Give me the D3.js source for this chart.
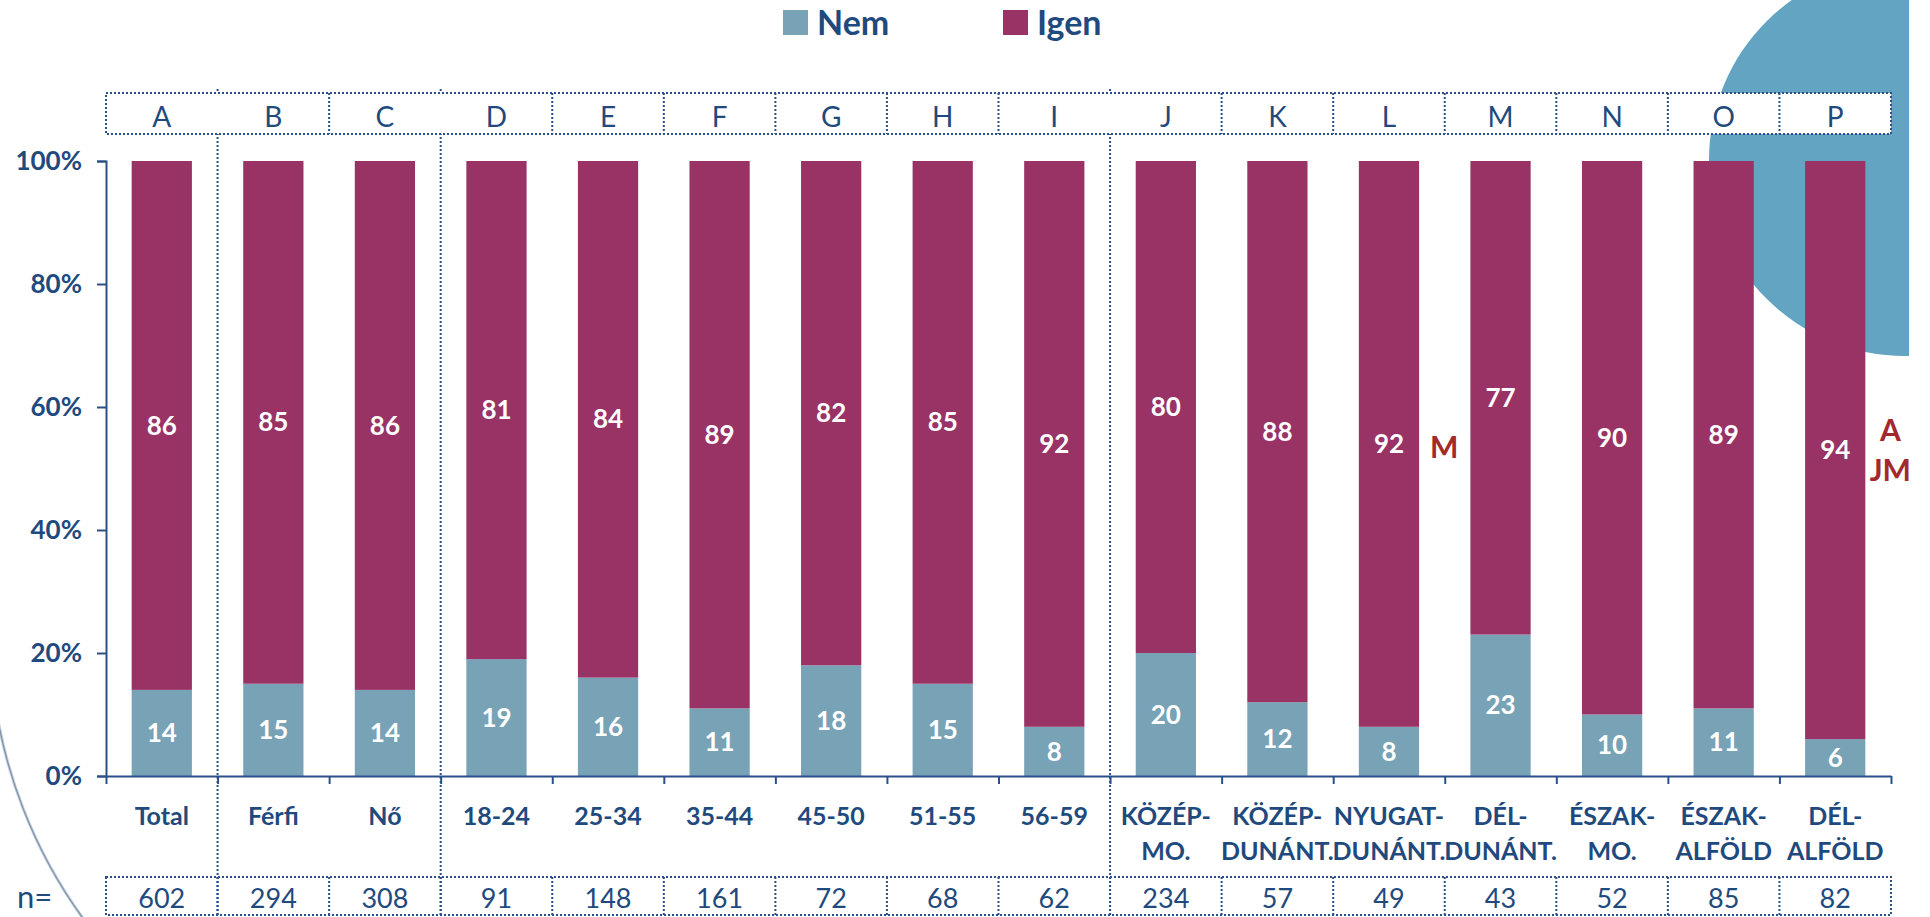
<!DOCTYPE html>
<html>
<head>
<meta charset="utf-8">
<script src="https://cdn.jsdelivr.net/npm/d3@7"></script>
<style>
  body { margin: 0; background: #fff; }
  svg text { font-family: Lato, "Open Sans", sans-serif; }
</style>
</head>
<body>
<div id="chart"></div>
<script>
// chart values
const letters = ["A","B","C","D","E","F","G","H","I","J","K","L","M","N","O","P"];
const categories = [["Total"],["Férfi"],["Nő"],["18-24"],["25-34"],["35-44"],["45-50"],["51-55"],["56-59"],
  ["KÖZÉP-","MO."],["KÖZÉP-","DUNÁNT."],["NYUGAT-","DUNÁNT."],["DÉL-","DUNÁNT."],["ÉSZAK-","MO."],["ÉSZAK-","ALFÖLD"],["DÉL-","ALFÖLD"]];
const nemValues  = [14,15,14,19,16,11,18,15,8,20,12,8,23,10,11,6];
const igenValues = [86,85,86,81,84,89,82,85,92,80,88,92,77,90,89,94];
const nValues = [602,294,308,91,148,161,72,68,62,234,57,49,43,52,85,82];
const sigMarks = [[],[],[],[],[],[],[],[],[],[],[],["M"],[],[],[],["A","JM"]];
const seriesNames = ["Nem","Igen"];
const seriesColors = ["#78a2b6","#993366"];
const yTicks = [0,20,40,60,80,100];
const groupBreaks = [1,3,9];

const W = 1930, H = 917;
const blue = "#1f4a7e", lineBlue = "#2b5089";
const x0 = 106, x1 = 1891, yTop = 161, yBottom = 776;

const svg = d3.select("#chart").append("svg")
    .attr("width", W)
    .attr("height", H);

// decoration: big circle top right, thin arc bottom left
svg.append("clipPath").attr("id","clipR")
  .append("rect").attr("x",0).attr("y",0).attr("width",1909).attr("height",H);
svg.append("circle")
    .attr("cx",1905).attr("cy",160).attr("r",196)
    .attr("fill","#63a4c3")
    .attr("clip-path","url(#clipR)");
let arcPath = d3.path();
arcPath.arc(477, 632, 487, 2.4, 3.14);
svg.append("path").attr("d", arcPath.toString())
    .attr("fill","none").attr("stroke","#c3ced9").attr("stroke-width",3);
svg.append("path").attr("d", arcPath.toString())
    .attr("fill","none").attr("stroke","#7a8ea7").attr("stroke-width",1.1);

// scales
const xScale = d3.scaleBand().domain(letters).range([x0,x1]).paddingInner(0.46).paddingOuter(0.23);
const xEdge = d3.scaleLinear().domain([0,letters.length]).range([x0,x1]);
const yScale = d3.scaleLinear().domain([0,100]).range([yBottom,yTop]);

// stacked data
let rows = letters.map((l,i)=>({letter:l, Nem:nemValues[i], Igen:igenValues[i]}));
let stacked = d3.stack().keys(seriesNames)(rows);

// group dividers (drawn below the boxes)
svg.selectAll("line.group").data(groupBreaks).enter().append("line")
    .attr("x1", d=>xEdge(d)).attr("x2", d=>xEdge(d))
    .attr("y1", 89).attr("y2", 915)
    .attr("stroke", lineBlue).attr("stroke-width",2).attr("stroke-dasharray","2,2");

// bars
let layers = svg.selectAll("g.layer").data(stacked).enter().append("g")
    .attr("fill", (d,i)=>seriesColors[i]);
layers.selectAll("rect").data(d=>d).enter().append("rect")
    .attr("x", d=>xScale(d.data.letter))
    .attr("width", xScale.bandwidth())
    .attr("y", d=>yScale(d[1]))
    .attr("height", d=>yScale(d[0])-yScale(d[1]));

// value labels inside bars
stacked.forEach(layer=>{
    svg.append("g").selectAll("text").data(layer).enter().append("text")
        .attr("x", d=>xScale(d.data.letter)+xScale.bandwidth()/2)
        .attr("y", d=>yScale((d[0]+d[1])/2))
        .attr("dy","0.35em")
        .attr("text-anchor","middle")
        .attr("fill","#fff")
        .attr("font-weight","bold")
        .attr("font-size",26)
        .text(d=>d[1]-d[0]);
});

// significance letters
let igenLayer = stacked[1];
letters.forEach((l,i)=>{
    let marks = sigMarks[i];
    if(marks.length===0) return;
    let cy = yScale((igenLayer[i][0]+igenLayer[i][1])/2);
    let start = marks.length===1 ? 4 : -20;
    marks.forEach((m,j)=>{
        svg.append("text")
            .attr("x", xScale(l)+xScale.bandwidth()+25)
            .attr("y", cy+start+j*40)
            .attr("dy","0.35em")
            .attr("text-anchor","middle")
            .attr("fill","#a2292c")
            .attr("font-weight","bold")
            .attr("font-size",30)
            .text(m);
    });
});

// y axis
let yAxis = svg.append("g")
    .attr("transform","translate("+x0+",0)")
    .call(d3.axisLeft(yScale).tickValues(yTicks).tickSize(9).tickPadding(15).tickFormat(d=>d+"%"));
yAxis.selectAll("path,line").attr("stroke",lineBlue).attr("stroke-width",2);
yAxis.selectAll("text")
    .attr("fill",blue).attr("font-weight","bold").attr("font-size",26)
    .style("font-family","Lato, sans-serif");

// x axis with ticks on category edges
let xAxis = svg.append("g")
    .attr("transform","translate(0,"+yBottom+")")
    .call(d3.axisBottom(xEdge).tickValues(d3.range(letters.length+1)).tickSize(8).tickSizeOuter(0).tickFormat(""));
xAxis.selectAll("path,line").attr("stroke",lineBlue).attr("stroke-width",2);

// category labels
let catText = svg.append("g").selectAll("text").data(categories).enter().append("text")
    .attr("text-anchor","middle")
    .attr("fill",blue)
    .attr("font-weight","bold")
    .attr("font-size",25);
catText.selectAll("tspan").data((d,i)=>d.map(t=>({t:t,i:i}))).enter().append("tspan")
    .attr("x", d=>xScale(letters[d.i])+xScale.bandwidth()/2)
    .attr("y", (d,j)=>825+j*35)
    .text(d=>d.t);

// top letter boxes
svg.append("rect")
    .attr("x",x0).attr("y",93).attr("width",x1-x0).attr("height",41)
    .attr("fill","#fff").attr("stroke",lineBlue).attr("stroke-width",2).attr("stroke-dasharray","2,2");
let innerTop = d3.range(1,letters.length).filter(k=>groupBreaks.indexOf(k)<0);
svg.selectAll("line.topdiv").data(innerTop).enter().append("line")
    .attr("x1", d=>xEdge(d)).attr("x2", d=>xEdge(d))
    .attr("y1",93).attr("y2",134)
    .attr("stroke",lineBlue).attr("stroke-width",2).attr("stroke-dasharray","2,2");
svg.append("g").selectAll("text").data(letters).enter().append("text")
    .attr("x", d=>xScale(d)+xScale.bandwidth()/2)
    .attr("y",127)
    .attr("text-anchor","middle")
    .attr("fill",blue)
    .attr("font-size",28)
    .text(d=>d);

// n= row
svg.append("rect")
    .attr("x",x0).attr("y",877).attr("width",x1-x0).attr("height",38)
    .attr("fill","none").attr("stroke",lineBlue).attr("stroke-width",2).attr("stroke-dasharray","2,2");
svg.selectAll("line.ndiv").data(d3.range(1,letters.length)).enter().append("line")
    .attr("x1", d=>xEdge(d)).attr("x2", d=>xEdge(d))
    .attr("y1",877).attr("y2",915)
    .attr("stroke",lineBlue).attr("stroke-width",2).attr("stroke-dasharray","2,2");
svg.append("g").selectAll("text").data(nValues).enter().append("text")
    .attr("x", (d,i)=>xScale(letters[i])+xScale.bandwidth()/2)
    .attr("y",908)
    .attr("text-anchor","middle")
    .attr("fill",blue)
    .attr("font-size",27)
    .text(d=>d);
svg.append("text")
    .attr("x",17).attr("y",908)
    .attr("fill",blue)
    .attr("font-size",31)
    .text("n=");

// legend
const legendX = d3.scalePoint().domain(seriesNames).range([783,1003]);
let legend = svg.append("g").selectAll("g").data(seriesNames).enter().append("g")
    .attr("transform", d=>"translate("+legendX(d)+",10)");
legend.append("rect")
    .attr("width",25).attr("height",25)
    .attr("fill",(d,i)=>seriesColors[i]);
legend.append("text")
    .attr("x",34).attr("y",25)
    .attr("fill",blue)
    .attr("font-weight","bold")
    .attr("font-size",34)
    .text(d=>d);
</script>
</body>
</html>
